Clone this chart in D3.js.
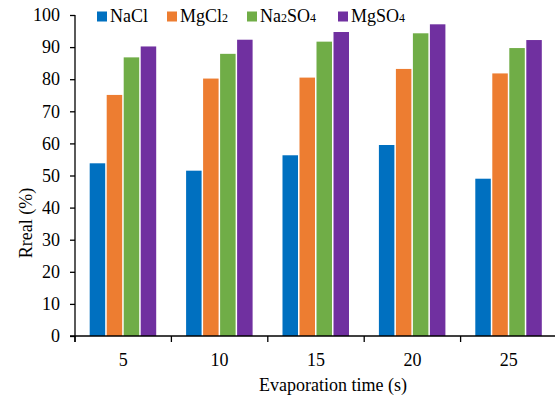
<!DOCTYPE html>
<html><head><meta charset="utf-8">
<script src="https://cdn.jsdelivr.net/npm/d3@7"></script>
<style>
body{margin:0;background:#fff;}
</style></head>
<body><svg id="c" width="555" height="398" style="font-family:'Liberation Serif','Times New Roman',serif"></svg>
<script>
const categories = ["5","10","15","20","25"];
const seriesNames = ["NaCl","MgCl2","Na2SO4","MgSO4"];
const NaCl   = [53.8, 51.5, 56.3, 59.5, 49.0];
const MgCl2  = [75.1, 80.2, 80.5, 83.2, 81.8];
const Na2SO4 = [86.8, 87.9, 91.7, 94.3, 89.7];
const MgSO4  = [90.2, 92.3, 94.7, 97.1, 92.2];
const yTicks = [0,10,20,30,40,50,60,70,80,90,100];
const colors = ["#0070C0","#ED7D31","#70AD47","#7030A0"];
const values = [NaCl, MgCl2, Na2SO4, MgSO4];
const legendLabels = [
  [["NaCl",false]],
  [["MgCl",false],["2",true]],
  [["Na",false],["2",true],["SO",false],["4",true]],
  [["MgSO",false],["4",true]]
];
const FONT = "'Liberation Serif','Times New Roman',serif";
const FS = 18;

const svg = d3.select("#c");
const x0 = d3.scaleBand().domain(categories).range([75, 557]).paddingInner(0).paddingOuter(0);
const x1 = d3.scaleBand().domain(seriesNames).range([0, x0.bandwidth()]).paddingOuter(0.835).paddingInner(0);
const y = d3.scaleLinear().domain([0,100]).range([336, 15]);

const g = svg.append("g");
categories.forEach((c, ci) => {
  seriesNames.forEach((s, si) => {
    g.append("rect")
      .attr("x", x0(c) + x1(s) + 0.5)
      .attr("y", y(values[si][ci]))
      .attr("width", x1.bandwidth() - 1.5)
      .attr("height", y(0) - y(values[si][ci]))
      .attr("fill", colors[si]);
  });
});

const yAxis = d3.axisLeft(y).tickValues(yTicks).tickSize(5).tickPadding(10).tickFormat(d3.format("d"));
const ya = svg.append("g").attr("transform","translate(75,0)").call(yAxis);
ya.attr("font-family", null);
ya.select(".domain").attr("stroke","#000").attr("stroke-width",1.3).attr("d","M0,"+y(100)+"V"+(y(0)+6));
ya.selectAll(".tick line").attr("stroke","#000").attr("stroke-width",1.3);
ya.selectAll(".tick text").attr("font-size",FS).style("font-family",FONT).attr("fill","#000");

const xAxis = d3.axisBottom(x0).tickSize(0).tickPadding(16.9);
const xa = svg.append("g").attr("transform","translate(0,336)").call(xAxis);
xa.attr("font-family", null);
xa.select(".domain").attr("stroke","#000").attr("stroke-width",1.3).attr("d","M70,0H555");
xa.selectAll(".tick text").attr("font-size",FS).style("font-family",FONT).attr("fill","#000");
const bounds = categories.map(c => x0(c)).concat([x0(categories[categories.length-1]) + x0.bandwidth()]);
xa.selectAll("line.b").data(bounds).enter().append("line")
  .attr("x1", d => d).attr("x2", d => d).attr("y1", 0).attr("y2", 6)
  .attr("stroke","#000").attr("stroke-width",1.3);

svg.append("text").attr("x",333).attr("y",391).attr("text-anchor","middle").attr("font-size",FS)
  .style("font-family",FONT).text("Evaporation time (s)");
svg.append("text").attr("transform","translate(32,223) rotate(-90)").attr("text-anchor","middle").attr("font-size",FS)
  .style("font-family",FONT).text("Rreal (%)");

const legendX = [97, 167, 247, 338];
legendLabels.forEach((parts, i) => {
  const lg = svg.append("g").attr("transform", `translate(${legendX[i]},0)`);
  lg.append("rect").attr("x",0).attr("y",11.5).attr("width",10).attr("height",10).attr("fill",colors[i]);
  const t = lg.append("text").attr("x",13).attr("y",22).attr("font-size",FS).style("font-family",FONT);
  parts.forEach(([txt, sub]) => {
    t.append("tspan").attr("font-size", sub ? 12 : FS).text(txt);
  });
});
</script></body></html>
